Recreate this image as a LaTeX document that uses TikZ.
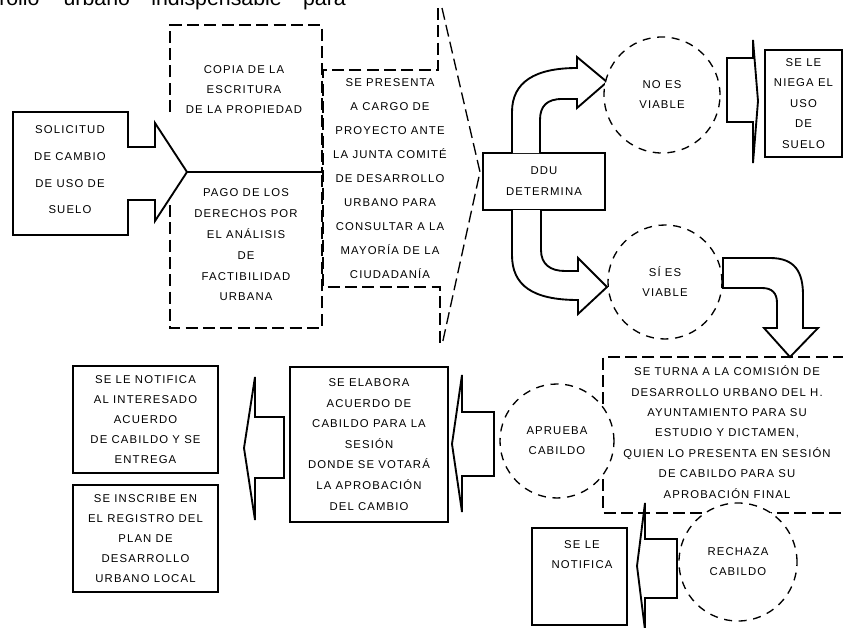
\documentclass[tikz,border=0pt]{standalone}
\usepackage{fontspec}
\newfontfamily\bfnt{Liberation Sans}[LetterSpace=10]
\newfontfamily\tfnt{Liberation Sans}
\tikzset{
  lbl/.style={align=center, inner sep=0pt, font=\bfnt\fontsize{8.5}{#1}\selectfont},
  lbl/.default=15.4,
  sbox/.style={draw, line width=1.4pt},
  dline/.style={line width=1pt, dash pattern=on 9pt off 4pt},
  dcirc/.style={circle, draw, fill=white, line width=1pt, dash pattern=on 6pt off 5pt, inner sep=0pt},
  barrow/.style={draw, line width=1.4pt, fill=white, line join=miter},
}
\begin{document}
\begin{tikzpicture}[x=0.75pt,y=-0.75pt]
\useasboundingbox (0,0) rectangle (843,628);
\clip (0,0) rectangle (843,628);

% top (cut) text
\node[anchor=base west, inner sep=0pt, font=\tfnt\fontsize{16}{16}\selectfont] (toptext) at (-1,6)
  {rollo\hspace{18pt}urbano\hspace{16pt}indispensable\hspace{16pt}para};

% left arrow box
\draw[barrow] (13,112) -- (128,112) -- (128,147) -- (155,147) -- (155,123) -- (187,172)
  -- (155,221) -- (155,200) -- (128,200) -- (128,235) -- (13,235) -- cycle;
\coordinate (tip) at (187,172);
\node[lbl=20] (sol) at (70,170) {SOLICITUD\\DE CAMBIO\\DE USO DE\\SUELO};

% requirement boxes
\draw[dline] (170,112) -- (170,25) -- (322,25) -- (322,172);
\draw[dline] (170,205) -- (170,328) -- (322,328) -- (322,172);
\node[lbl=15] (req1) at (244,90) {COPIA DE LA\\ESCRITURA\\DE LA PROPIEDAD};
\node[lbl=15.6] (req2) at (246,245) {PAGO DE LOS\\DERECHOS POR\\EL ANÁLISIS\\DE\\FACTIBILIDAD\\URBANA};
\coordinate (jw) at (323,172);
\draw[line width=1pt] (tip) -- (jw);

% middle box with chevron
\draw[dline] (438,8) -- (438,70) -- (323,70) -- (323,287) -- (440,287) -- (440,345);
\draw[dline] (442,8) -- (480,172) -- (442,345);
\node[lbl=18] (junta) at (390,179) {SE PRESENTA\\A CARGO DE\\PROYECTO ANTE\\LA JUNTA COMITÉ\\DE DESARROLLO\\URBANO PARA\\CONSULTAR A LA\\MAYORÍA DE LA\\CIUDADANÍA};

% DDU box
\node[sbox, minimum width=91.5pt, minimum height=42.75pt, lbl=15.75] (ddu) at (544,181.5) {DDU\\DETERMINA};

% curved arrows out of DDU
\draw[barrow] (512,153) -- (512,112) .. controls (512,82) and (535,68) .. (577,68) -- (577,57)
  -- (607,82) -- (577,108) -- (577,99) -- (562,99) .. controls (547,99) and (540,106) .. (540,120) -- (540,153);
\draw[barrow] (512,210) -- (512,255) .. controls (512,285) and (532,300) .. (578,300) -- (578,314)
  -- (607,287) -- (578,258) -- (578,271) -- (565,271) .. controls (550,271) and (541,264) .. (541,250) -- (541,210);

% big text box (bottom right)
\draw[dline] (845,357) -- (603,357) -- (603,513) -- (845,513);
\node[lbl=15.3] (big) at (727,432) {SE TURNA A LA COMISIÓN DE\\DESARROLLO URBANO DEL H.\\AYUNTAMIENTO PARA SU\\ESTUDIO Y DICTAMEN,\\QUIEN LO PRESENTA EN SESIÓN\\DE CABILDO PARA SU\\APROBACIÓN FINAL};

% circles
\node[dcirc, minimum size=87pt, lbl=15] (c1) at (662,95) {NO ES\\VIABLE};
\node[dcirc, minimum size=85.5pt, lbl=15] (c2) at (665,282) {SÍ ES\\VIABLE};
\node[dcirc, minimum size=85.5pt, lbl=15] (c3) at (557,441) {APRUEBA\\CABILDO};
\node[dcirc, minimum size=88.5pt, lbl=15] (c4) at (738,562) {RECHAZA\\CABILDO};

% arrow c1 -> r1
\draw[barrow] (727,58) -- (753,58) -- (753,40) -- (758,101) -- (753,163) -- (753,122) -- (727,122) -- cycle;
\node[sbox, minimum width=57.75pt, minimum height=80.25pt, lbl=15.4] (r1) at (803.5,103.5) {SE LE\\NIEGA EL\\USO\\DE\\SUELO};

% curved arrow c2 -> big box
\draw[barrow] (723,258) -- (770,258) .. controls (795,258) and (803,272) .. (803,295) -- (803,328) -- (818,328)
  -- (790,357) -- (764,328) -- (777,328) -- (777,303) .. controls (777,293) and (772,288) .. (762,288) -- (723,288) -- cycle;

% arrow c3 -> m
\draw[barrow] (494,412) -- (462,412) -- (462,375) -- (452,444) -- (462,512) -- (462,476) -- (494,476) -- cycle;
\node[sbox, minimum width=118.5pt, minimum height=116.25pt, lbl=15.4] (m) at (369,444.5)
  {SE ELABORA\\ACUERDO DE\\CABILDO PARA LA\\SESIÓN\\DONDE SE VOTARÁ\\LA APROBACIÓN\\DEL CAMBIO};

% arrow m -> a/b
\draw[barrow] (284,417) -- (255,417) -- (255,377) -- (244,448) -- (255,520) -- (255,478) -- (284,478) -- cycle;
\node[sbox, minimum width=108.75pt, minimum height=80.25pt, lbl=15] (a) at (145.5,419.5)
  {SE LE NOTIFICA\\AL INTERESADO\\ACUERDO\\DE CABILDO Y SE\\ENTREGA};
\node[sbox, minimum width=108.75pt, minimum height=80.25pt, lbl=15] (b) at (145.5,538.5)
  {SE INSCRIBE EN\\EL REGISTRO DEL\\PLAN DE\\DESARROLLO\\URBANO LOCAL};

% arrow c4 -> s
\draw[barrow] (677,539) -- (645,539) -- (645,503) -- (637,566) -- (645,630) -- (645,598) -- (677,598) -- cycle;
\node[sbox, minimum width=71.25pt, minimum height=72.75pt] (s) at (579.5,576.5) {};
\node[lbl=15] (stxt) at (582,555) {SE LE\\NOTIFICA};
\end{tikzpicture}
\end{document}
